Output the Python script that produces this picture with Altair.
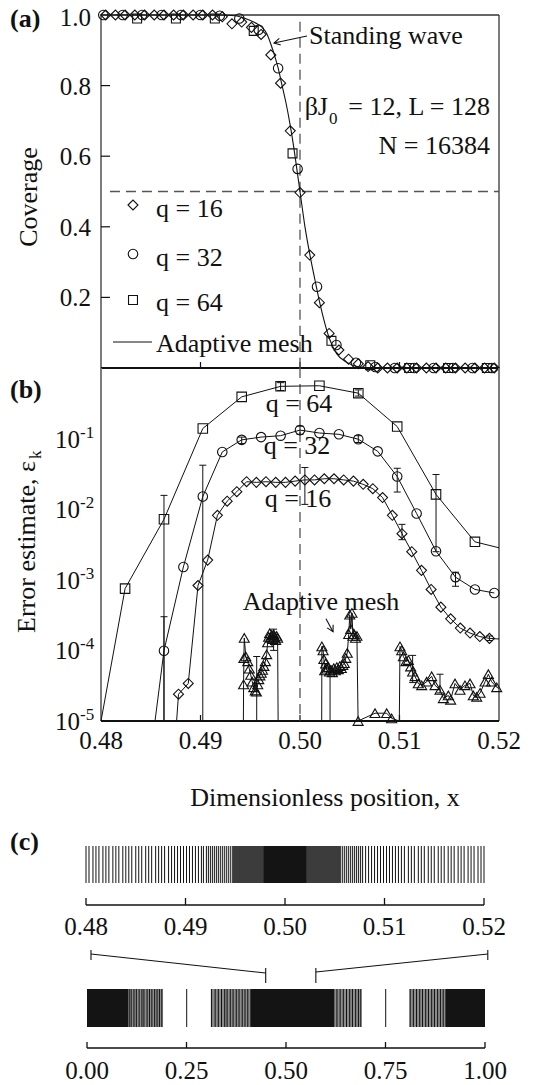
import altair as alt
import pandas as pd

FONT = "Liberation Serif"
INK = "#111111"

# ---------------- panel (a): coverage ----------------
a_diamond_x = [0.48047, 0.48145, 0.48242, 0.48340, 0.48438, 0.48535, 0.48633, 0.48730, 0.48828, 0.48926,
               0.49023, 0.49121, 0.49219, 0.49316, 0.49414, 0.49512, 0.49609, 0.49707, 0.49805, 0.49902,
               0.50000, 0.50098, 0.50195, 0.50293, 0.50391, 0.50488, 0.50586, 0.50684, 0.50781, 0.50879,
               0.50977, 0.51074, 0.51172, 0.51270, 0.51367, 0.51465, 0.51563, 0.51660, 0.51758, 0.51855,
               0.51953]
a_diamond_y = [1.0, 1.0, 1.0, 1.0, 1.0, 1.0, 1.0, 1.0, 1.0, 1.0,
               1.0, 1.0, 0.995, 0.975, 0.98, 0.965, 0.945, 0.887, 0.807, 0.672,
               0.497, 0.32, 0.185, 0.098, 0.051, 0.025, 0.012, 0.004, 0.0, 0.0,
               0.0, 0.0, 0.0, 0.0, 0.0, 0.0, 0.0, 0.0, 0.0, 0.0,
               0.0]
a_circle_x = [0.48023, 0.48218, 0.48413, 0.48609, 0.48804, 0.48999, 0.49194, 0.49390, 0.49585, 0.49780,
              0.49976, 0.50171, 0.50366, 0.50562, 0.50757, 0.50952, 0.51147, 0.51343, 0.51538, 0.51733,
              0.51929]
a_circle_y = [1.0, 1.0, 1.0, 1.0, 1.0, 1.0, 0.998, 0.99, 0.958, 0.849,
              0.564, 0.23, 0.065, 0.015, 0.003, 0.0, 0.0, 0.0, 0.0, 0.0,
              0.0]
a_square_x = [0.48363, 0.48753, 0.49144, 0.49535, 0.49925, 0.50316, 0.50706, 0.51097, 0.51488, 0.51878]
a_square_y = [0.99, 0.99, 0.99, 0.955, 0.608, 0.077, 0.008, 0.0, 0.0, 0.0]
a_mesh_x = [0.480, 0.492, 0.4935, 0.4945, 0.4955, 0.4962, 0.4967, 0.4971, 0.4975, 0.4978,
            0.4982, 0.4986, 0.4990, 0.4994, 0.4997, 0.5000, 0.5005, 0.5010, 0.5015, 0.5020,
            0.5025, 0.5030, 0.5037, 0.5047, 0.5060, 0.508, 0.520]
a_mesh_y = [1.0, 1.0, 0.998, 0.99, 0.978, 0.965, 0.945, 0.915, 0.88, 0.85,
            0.80, 0.75, 0.69, 0.62, 0.56, 0.50, 0.40, 0.32, 0.25, 0.183,
            0.126, 0.08, 0.04, 0.016, 0.003, 0.0, 0.0]
a_yticks = [0.2, 0.4, 0.6, 0.8, 1.0]
a_ytick_labels = ["0.2", "0.4", "0.6", "0.8", "1.0"]
a_xticks = [0.49, 0.50, 0.51]
a_arrow_x = [0.50070, 0.49739]
a_arrow_y = [0.9405, 0.9207]

# ---------------- panel (b): error estimate ----------------
b_sq_x = [0.48242, 0.48633, 0.49023, 0.49414, 0.49805, 0.50195, 0.50586, 0.50977, 0.51367, 0.51758]
b_sq_y = [7.5e-4, 7.2e-3, 0.139, 0.39, 0.55, 0.56, 0.44, 0.148, 0.0162, 3.45e-3]
b_sq_lead = (0.48, 1e-5)
b_sq_tail = (0.52, 2.84e-3)

b_ci_x = [0.48633, 0.48828, 0.49023, 0.49219, 0.49414, 0.49609, 0.49805, 0.50000, 0.50195, 0.50391,
          0.50586, 0.50781, 0.50977, 0.51172, 0.51367, 0.51563, 0.51758, 0.51953]
b_ci_y = [9.9e-5, 1.52e-3, 0.0151, 0.0647, 0.096, 0.105, 0.11, 0.132, 0.12, 0.115,
          0.098, 0.066, 0.029, 8.7e-3, 2.54e-3, 1.09e-3, 7.3e-4, 6.5e-4]
b_ci_lead = (0.48543, 1e-5)

b_di_x = [0.48779, 0.48877, 0.48975, 0.49072, 0.49170, 0.49268, 0.49365, 0.49463, 0.49561, 0.49658,
          0.49756, 0.49854, 0.49951, 0.50049, 0.50146, 0.50244, 0.50342, 0.50439, 0.50537, 0.50635,
          0.50732, 0.50830, 0.50928, 0.51025, 0.51123, 0.51221, 0.51318, 0.51416, 0.51514, 0.51611,
          0.51709, 0.51807, 0.51904]
b_di_y = [2.4e-5, 3.4e-5, 8.3e-4, 1.9e-3, 8.2e-3, 0.013, 0.0177, 0.0245, 0.024, 0.0245,
          0.024, 0.024, 0.025, 0.026, 0.026, 0.027, 0.027, 0.026, 0.025, 0.0225,
          0.0195, 0.0146, 0.0082, 0.0045, 0.0025, 0.00136, 7.3e-4, 4.1e-4, 2.8e-4, 2.07e-4,
          1.76e-4, 1.57e-4, 1.48e-4]
b_di_lead = (0.4876, 1e-5)
b_di_tail = (0.52, 1.45e-4)

b_tri_x = [0.49431, 0.49433, 0.49436, 0.49440, 0.49455, 0.49475, 0.49490, 0.49505, 0.49520, 0.49535,
           0.49550, 0.49562, 0.49575, 0.49585, 0.49597, 0.49610, 0.49623, 0.49637, 0.49652, 0.49665,
           0.49675, 0.49685, 0.49695, 0.49705, 0.49715, 0.49725, 0.49735, 0.49745, 0.49755, 0.49765,
           0.49775, 0.49780, 0.50218, 0.50220, 0.50232, 0.50240, 0.50248, 0.50258, 0.50270, 0.50285,
           0.50297, 0.50310, 0.50325, 0.50340, 0.50355, 0.50370, 0.50385, 0.50400, 0.50415, 0.50430,
           0.50445, 0.50460, 0.50475, 0.50490, 0.50500, 0.50510, 0.50522, 0.50532, 0.50545, 0.50558,
           0.50572, 0.50584, 0.50754, 0.50871, 0.50921, 0.50998, 0.51005, 0.51022, 0.51039, 0.51065,
           0.51089, 0.51112, 0.51132, 0.51156, 0.51189, 0.51223, 0.51273, 0.51323, 0.51357, 0.51407,
           0.51441, 0.51491, 0.51514, 0.51558, 0.51608, 0.51658, 0.51709, 0.51742, 0.51776, 0.51810,
           0.51860, 0.51893, 0.51926, 0.51977, 0.52000]
b_tri_y = [1e-5, 3.3e-5, 7.8e-5, 1.5e-4, 8.2e-5, 7.0e-5, 5.5e-5, 4.5e-5, 3.6e-5, 3.0e-5,
           2.7e-5, 2.6e-5, 3.3e-5, 3.9e-5, 4.4e-5, 4.8e-5, 5.3e-5, 6.0e-5, 7.0e-5, 8.8e-5,
           1.3e-4, 1.55e-4, 1.75e-4, 1.5e-4, 1.65e-4, 1.45e-4, 1.7e-4, 1.55e-4, 1.4e-4, 1.6e-4,
           1.5e-4, 1e-5, 1e-5, 1.14e-4, 1.0e-4, 7.5e-5, 5.2e-5, 6.5e-5, 5.5e-5, 5.8e-5,
           5.0e-5, 5.3e-5, 4.9e-5, 5.6e-5, 5.2e-5, 5.8e-5, 5.4e-5, 6.0e-5, 5.6e-5, 6.2e-5,
           6.6e-5, 7.8e-5, 9.2e-5, 1.7e-4, 3.2e-4, 2.0e-4, 3.4e-4, 1.6e-4, 1.7e-4, 1.5e-4,
           1.6e-4, 1.0e-5, 1.29e-5, 1.29e-5, 1.09e-5, 1e-5, 1.14e-4, 1.0e-4, 8.2e-5, 7.0e-5,
           7.3e-5, 5.9e-5, 5.0e-5, 4.3e-5, 3.4e-5, 3.2e-5, 3.6e-5, 4.3e-5, 3.2e-5, 2.76e-5,
           2.1e-5, 2.3e-5, 2.0e-5, 3.4e-5, 2.76e-5, 3.2e-5, 3.4e-5, 2.3e-5, 2.2e-5, 2.5e-5,
           3.6e-5, 4.6e-5, 3.6e-5, 3.0e-5, 2.9e-5]
b_tri_marker = [0, 1, 1, 1, 1, 1, 1, 1, 1, 1,
                1, 1, 1, 1, 1, 1, 1, 1, 1, 1,
                1, 1, 1, 1, 1, 1, 1, 1, 1, 1,
                1, 0, 0, 1, 1, 1, 1, 1, 1, 1,
                1, 1, 1, 1, 1, 1, 1, 1, 1, 1,
                1, 1, 1, 1, 1, 1, 1, 1, 1, 1,
                1, 1, 1, 1, 1, 0, 1, 1, 1, 1,
                1, 1, 1, 1, 1, 1, 1, 1, 1, 1,
                1, 1, 1, 1, 1, 1, 1, 1, 1, 1,
                1, 1, 1, 1, 0]

b_err_x = [0.48633, 0.49805, 0.50586, 0.51367, 0.48633, 0.49023, 0.49414, 0.50000, 0.50586, 0.50977,
           0.51563, 0.50049, 0.51025, 0.51904, 0.49565, 0.49735, 0.50302, 0.51132, 0.51407]
b_err_lo = [1e-5, 0.48, 0.40, 2.5e-3, 1e-5, 1e-5, 0.085, 0.115, 0.088, 0.0175,
            8.1e-4, 0.0117, 3.7e-3, 1.38e-4, 1e-5, 1.0e-4, 1e-5, 3.5e-5, 2.5e-5]
b_err_hi = [0.0157, 0.62, 0.49, 0.031, 3.0e-4, 0.042, 0.105, 0.15, 0.11, 0.038,
            1.28e-3, 0.039, 6.1e-3, 1.6e-4, 8.2e-5, 2.0e-4, 6.0e-5, 8.5e-5, 4.6e-5]

b_yticks = [1e-5, 1e-4, 1e-3, 1e-2, 1e-1]
b_ytick_base = ["10", "10", "10", "10", "10"]
b_ytick_exp = ["-5", "-4", "-3", "-2", "-1"]
b_xticks = [0.48, 0.49, 0.50, 0.51, 0.52]
b_xtick_labels = ["0.48", "0.49", "0.50", "0.51", "0.52"]
b_arrow_x = [0.50261, 0.50332]
b_arrow_y = [2.81e-4, 1.84e-4]

# ---------------- panel (c): mesh ----------------
ct_lines_left = [0.4800, 0.4803, 0.4807, 0.4810, 0.4813, 0.4817, 0.4820, 0.4823, 0.4827, 0.4830,
                 0.4833, 0.4837, 0.4840, 0.4843, 0.4846, 0.4850, 0.4853, 0.4856, 0.4860, 0.4863,
                 0.4866, 0.4870, 0.4873, 0.4876, 0.4879, 0.4883, 0.4886, 0.4889, 0.4892, 0.4895,
                 0.4898, 0.4901, 0.4904, 0.4907, 0.4910, 0.4913, 0.4916, 0.4918, 0.4921, 0.4923]
ct_lines_mid = [0.4925, 0.4927, 0.4929, 0.4931, 0.4933, 0.4935, 0.4937, 0.4939, 0.4941, 0.4943,
                0.4945, 0.4947, 0.5056, 0.5058, 0.5060, 0.5062, 0.5064, 0.5066, 0.5068, 0.5070,
                0.5072, 0.5074, 0.5076, 0.5078]
ct_lines_right = [0.5081, 0.5084, 0.5087, 0.5090, 0.5093, 0.5096, 0.5099, 0.5102, 0.5105, 0.5108,
                  0.5111, 0.5114, 0.5117, 0.5120, 0.5124, 0.5127, 0.5130, 0.5134, 0.5137, 0.5140,
                  0.5144, 0.5147, 0.5150, 0.5154, 0.5157, 0.5160, 0.5164, 0.5167, 0.5170, 0.5174,
                  0.5177, 0.5180, 0.5184, 0.5187, 0.5190, 0.5194, 0.5197, 0.5200]
ct_dark_start = [0.49477, 0.5022]
ct_dark_end = [0.4978, 0.50553]
ct_black_start = [0.4978]
ct_black_end = [0.5022]
ct_ticks = [0.48, 0.49, 0.50, 0.51, 0.52]
ct_tick_labels = ["0.48", "0.49", "0.50", "0.51", "0.52"]

cb_black_start = [0.0, 0.41, 0.90]
cb_black_end = [0.103, 0.622, 1.0]
cb_gray_start = [0.103, 0.311, 0.622, 0.81]
cb_gray_end = [0.191, 0.41, 0.69, 0.90]
cb_lines = [0.106, 0.111, 0.118, 0.124, 0.131, 0.138, 0.143, 0.151, 0.157, 0.163,
            0.170, 0.176, 0.182, 0.188, 0.2505, 0.313, 0.322, 0.330, 0.338, 0.346,
            0.352, 0.360, 0.367, 0.375, 0.382, 0.390, 0.397, 0.404, 0.628, 0.636,
            0.644, 0.652, 0.660, 0.667, 0.675, 0.682, 0.688, 0.7505, 0.812, 0.820,
            0.828, 0.836, 0.843, 0.851, 0.858, 0.866, 0.873, 0.881, 0.888, 0.895]
cb_ticks = [0.0, 0.25, 0.5, 0.75, 1.0]
cb_tick_labels = ["0.00", "0.25", "0.50", "0.75", "1.00"]
c_zoom_left = [0.010, 0.449]
c_zoom_right = [0.575, 1.007]

# texts
panel_tags = ["(a)", "(b)", "(c)"]
legend_labels = ["q = 16", "q = 32", "q = 64", "Adaptive mesh"]
b_series_labels = ["q = 64", "q = 32", "q = 16", "Adaptive mesh"]

# ---------------- scales / layout ----------------
W = 398
P = 353
H = 1063
XA = alt.Scale(domain=[0.48, 0.52], range=[0, W], nice=False, zero=False)
YA = alt.Scale(domain=[0.0, 1.0], range=[P, 0], nice=False, zero=False)
YB = alt.Scale(type="log", domain=[1e-5, 1.0], range=[2 * P, P], nice=False)
XCT = alt.Scale(domain=[0.48, 0.52], range=[-15, 383], nice=False, zero=False)
XCB = alt.Scale(domain=[0.0, 1.0], range=[-14, 384], nice=False, zero=False)


def X(f, s):
    return alt.X(f"{f}:Q", scale=s, axis=None)


def Y(f, s):
    return alt.Y(f"{f}:Q", scale=s, axis=None)


def markers(x, y, shape, xs, ys, size=90):
    return alt.Chart(pd.DataFrame({"x": x, "y": y})).mark_point(
        shape=shape, filled=False, color=INK, strokeWidth=1.1, size=size, opacity=1
    ).encode(x=X("x", xs), y=Y("y", ys))


def series(x, y, xs, ys, interp="linear", width=1.0):
    d = pd.DataFrame({"x": x, "y": y, "i": list(range(len(x)))})
    return alt.Chart(d).mark_line(color=INK, strokeWidth=width, interpolate=interp).encode(
        x=X("x", xs), y=Y("y", ys), order="i:Q")


def segs(x, x2, y, y2, xs, ys, color=INK, width=1.0, dash=None):
    d = pd.DataFrame({"x": x, "x2": x2, "y": y, "y2": y2})
    kw = dict(color=color, strokeWidth=width)
    if dash:
        kw["strokeDash"] = dash
    return alt.Chart(d).mark_rule(**kw).encode(x=X("x", xs), x2="x2:Q", y=Y("y", ys), y2="y2:Q")


def label(text, px, py, size=26, align="left", bold=False, angle=0):
    kw = dict(font=FONT, fontSize=size, align=align, baseline="middle", color=INK)
    if bold:
        kw["fontWeight"] = "bold"
    if angle:
        kw["angle"] = angle
    return alt.Chart(pd.DataFrame({"t": [text]})).mark_text(**kw).encode(
        x=alt.value(px), y=alt.value(py), text="t:N")


def vlines(vals, xs, y0, y1, color=INK, width=1.0):
    return alt.Chart(pd.DataFrame({"v": vals})).mark_rule(color=color, strokeWidth=width).encode(
        x=X("v", xs), y=alt.value(y0), y2=alt.value(y1))


def blocks(a, b, xs, y0, y1, color):
    return alt.Chart(pd.DataFrame({"a": a, "b": b})).mark_rect(color=color).encode(
        x=X("a", xs), x2="b:Q", y=alt.value(y0), y2=alt.value(y1))


def xlabels(vals, texts, xs, py, size=25):
    return alt.Chart(pd.DataFrame({"v": vals, "t": texts})).mark_text(
        font=FONT, fontSize=size, align="center", baseline="middle", color=INK
    ).encode(x=X("v", xs), y=alt.value(py), text="t:N")


def ylabels(vals, texts, ys, px, dy):
    return alt.Chart(pd.DataFrame({"v": vals, "t": texts})).mark_text(
        font=FONT, fontSize=25, align="right", baseline="middle", color=INK, dy=dy
    ).encode(y=Y("v", ys), x=alt.value(px), text="t:N")


def arrowhead(x, y, xs, ys, angle):
    return alt.Chart(pd.DataFrame({"x": [x], "y": [y]})).mark_point(
        shape="M-1,-0.55L0,0L-1,0.55", filled=False, color=INK, strokeWidth=1.1,
        size=150, angle=angle, opacity=1
    ).encode(x=X("x", xs), y=Y("y", ys))


L = []
GRAYAX = "#6e6e6e"

# ---------- panel (a) ----------
L.append(segs([0.48, 0.52], [0.48, 0.52], [0.0, 0.0], [1.0, 1.0], XA, YA, color=GRAYAX, width=1.8))
L.append(segs([0.48], [0.52], [1.0], [1.0], XA, YA, color="#333333", width=1.3))
L.append(segs([0.48], [0.52], [0.0], [0.0], XA, YA, color=INK, width=2.2))
L.append(alt.Chart(pd.DataFrame({"v": a_yticks[:-1]})).mark_rule(color=INK, strokeWidth=1.2).encode(
    y=Y("v", YA), x=alt.value(0), x2=alt.value(9)))
L.append(alt.Chart(pd.DataFrame({"v": a_xticks})).mark_rule(color=INK, strokeWidth=1.2).encode(
    x=X("v", XA), y=alt.value(P - 6), y2=alt.value(P)))
L.append(ylabels(a_yticks[:-1], a_ytick_labels[:-1], YA, -10, 1))
L.append(ylabels(a_yticks[-1:], a_ytick_labels[-1:], YA, -10, 3))
# dashed guides
L.append(segs([0.50], [0.50], [0.981], [0.0], XA, YA, color="#555555", width=1.3, dash=[10, 6]))
L.append(segs([0.4809], [0.52], [0.5], [0.5], XA, YA, color="#555555", width=1.3, dash=[10, 6]))
# data
L.append(series(a_mesh_x, a_mesh_y, XA, YA, interp="monotone", width=1.1))
L.append(markers(a_diamond_x, a_diamond_y, "diamond", XA, YA, size=100))
L.append(markers(a_circle_x, a_circle_y, "circle", XA, YA, size=90))
L.append(markers(a_square_x, a_square_y, "square", XA, YA, size=80))
# annotations
L.append(segs([a_arrow_x[0]], [a_arrow_x[1]], [a_arrow_y[0]], [a_arrow_y[1]], XA, YA, width=1.1))
L.append(arrowhead(a_arrow_x[1], a_arrow_y[1], XA, YA, 168))
L.append(label("Standing wave", 208, 21))
L.append(label("\u03b2J", 227, 92, align="right"))
L.append(label("0", 228, 104, size=17))
L.append(label("= 12, L = 128", 389, 92, align="right"))
L.append(label("N = 16384", 389, 131, align="right"))
L.append(label(panel_tags[0], -91, 4, bold=True))
L.append(label("Coverage", -72, 182, angle=270, align="center"))
# legend
for shape, py, size in [("diamond", 190, 100), ("circle", 239, 90), ("square", 285, 80)]:
    L.append(alt.Chart(pd.DataFrame({"s": [shape]})).mark_point(
        shape=shape, filled=False, color=INK, strokeWidth=1.1, size=size, opacity=1
    ).encode(x=alt.value(32), y=alt.value(py)))
L.append(label(legend_labels[0], 55, 194))
L.append(label(legend_labels[1], 55, 243))
L.append(label(legend_labels[2], 55, 288))
L.append(alt.Chart(pd.DataFrame({"s": [legend_labels[3]]})).mark_rule(color=INK, strokeWidth=1.1).encode(
    x=alt.value(12), x2=alt.value(51), y=alt.value(327)))
L.append(label(legend_labels[3], 55, 329))

# ---------- panel (b) ----------
L.append(segs([0.48, 0.52], [0.48, 0.52], [1e-5, 1e-5], [1.0, 1.0], XA, YB, color=GRAYAX, width=1.8))
L.append(segs([0.48], [0.52], [1e-5], [1e-5], XA, YB, color=INK, width=2.2))
L.append(alt.Chart(pd.DataFrame({"v": b_xticks[1:-1]})).mark_rule(color=INK, strokeWidth=1.2).encode(
    x=X("v", XA), y=alt.value(2 * P - 6), y2=alt.value(2 * P)))
L.append(segs([0.50], [0.50], [1.0], [1e-5], XA, YB, color="#555555", width=1.3, dash=[10, 6]))
L.append(ylabels(b_yticks, b_ytick_base, YB, -21, 1))
L.append(alt.Chart(pd.DataFrame({"v": b_yticks, "t": b_ytick_exp})).mark_text(
    font=FONT, fontSize=17, align="left", baseline="middle", color=INK, dy=-6
).encode(y=Y("v", YB), x=alt.value(-21), text="t:N"))
L.append(xlabels(b_xticks, b_xtick_labels, XA, 726))
L.append(label("Dimensionless position, x", 224, 783, align="center"))
L.append(label("Error estimate, \u03b5", -74, 446, angle=270, align="right"))
L.append(label("k", -65, 444, size=17, angle=270, align="left"))
L.append(label(panel_tags[1], -91, 375, bold=True))
# error bars
L.append(segs(b_err_x, b_err_x, b_err_lo, b_err_hi, XA, YB, width=1.0))
L.append(alt.Chart(pd.DataFrame({"x": b_err_x + b_err_x, "y": b_err_hi + b_err_lo})).mark_tick(
    orient="horizontal", color=INK, thickness=1, size=7, opacity=1
).encode(x=X("x", XA), y=Y("y", YB)))
# series lines
L.append(series([b_sq_lead[0]] + b_sq_x + [b_sq_tail[0]], [b_sq_lead[1]] + b_sq_y + [b_sq_tail[1]], XA, YB))
L.append(series([b_ci_lead[0]] + b_ci_x, [b_ci_lead[1]] + b_ci_y, XA, YB))
L.append(series([b_di_lead[0]] + b_di_x + [b_di_tail[0]], [b_di_lead[1]] + b_di_y + [b_di_tail[1]], XA, YB))
L.append(series(b_tri_x, b_tri_y, XA, YB))
L.append(markers(b_sq_x, b_sq_y, "square", XA, YB, size=90))
L.append(markers(b_ci_x, b_ci_y, "circle", XA, YB, size=90))
L.append(markers(b_di_x, b_di_y, "diamond", XA, YB, size=100))
tri_df = pd.DataFrame({"x": b_tri_x, "y": b_tri_y, "m": b_tri_marker})
tri_df = tri_df[tri_df["m"] == 1]
L.append(markers(list(tri_df["x"]), list(tri_df["y"]), "triangle-up", XA, YB, size=100))
# annotations
L.append(label(b_series_labels[0], 198, 389, align="center"))
L.append(label(b_series_labels[1], 196, 431, align="center"))
L.append(label(b_series_labels[2], 197, 484, align="center"))
L.append(label(b_series_labels[3], 220, 587, align="center"))
L.append(segs([b_arrow_x[0]], [b_arrow_x[1]], [b_arrow_y[0]], [b_arrow_y[1]], XA, YB, width=1.1))
L.append(arrowhead(b_arrow_x[1], b_arrow_y[1], XA, YB, 62))

# ---------- panel (c) ----------
L.append(label(panel_tags[2], -91, 827, bold=True))
L.append(blocks(ct_black_start, ct_black_end, XCT, 831, 868, "#141414"))
L.append(blocks(ct_dark_start, ct_dark_end, XCT, 831, 868, "#3c3c3c"))
L.append(vlines(ct_lines_left, XCT, 831, 868))
L.append(vlines(ct_lines_mid, XCT, 831, 868))
L.append(vlines(ct_lines_right, XCT, 831, 868))
L.append(alt.Chart(pd.DataFrame({"a": [ct_ticks[0]], "b": [ct_ticks[-1]]})).mark_rule(
    color=INK, strokeWidth=1.5).encode(x=X("a", XCT), x2="b:Q", y=alt.value(890)))
L.append(vlines(ct_ticks, XCT, 883, 890, width=1.3))
L.append(xlabels(ct_ticks, ct_tick_labels, XCT, 912))
# zoom connectors
L.append(alt.Chart(pd.DataFrame({"a": [c_zoom_left[0]], "b": [c_zoom_left[1]]})).mark_rule(
    color=INK, strokeWidth=1.1).encode(x=X("a", XCB), x2="b:Q", y=alt.value(939), y2=alt.value(958)))
L.append(alt.Chart(pd.DataFrame({"a": [c_zoom_right[0]], "b": [c_zoom_right[1]]})).mark_rule(
    color=INK, strokeWidth=1.1).encode(x=X("a", XCB), x2="b:Q", y=alt.value(957), y2=alt.value(939)))
L.append(vlines([c_zoom_left[0], c_zoom_right[1]], XCB, 935, 945, width=1.1))
L.append(vlines([c_zoom_left[1], c_zoom_right[0]], XCB, 953, 968, width=1.1))
# bottom barcode
L.append(blocks(cb_gray_start, cb_gray_end, XCB, 974, 1012, "#8c8c8c"))
L.append(blocks(cb_black_start, cb_black_end, XCB, 974, 1012, "#141414"))
L.append(vlines(cb_lines, XCB, 974, 1012))
L.append(alt.Chart(pd.DataFrame({"a": [cb_ticks[0]], "b": [cb_ticks[-1]]})).mark_rule(
    color=INK, strokeWidth=1.5).encode(x=X("a", XCB), x2="b:Q", y=alt.value(1033)))
L.append(vlines(cb_ticks, XCB, 1027, 1033, width=1.3))
L.append(xlabels(cb_ticks, cb_tick_labels, XCB, 1056))

chart = alt.layer(*L).resolve_scale(x="independent", y="independent").properties(
    width=W, height=H,
    padding={"left": 93, "top": 7, "right": 30, "bottom": 8},
    autosize=alt.AutoSizeParams(type="none"),
).configure_view(stroke=None)

chart.save("out.html", embed_options={"renderer": "svg", "actions": False})
